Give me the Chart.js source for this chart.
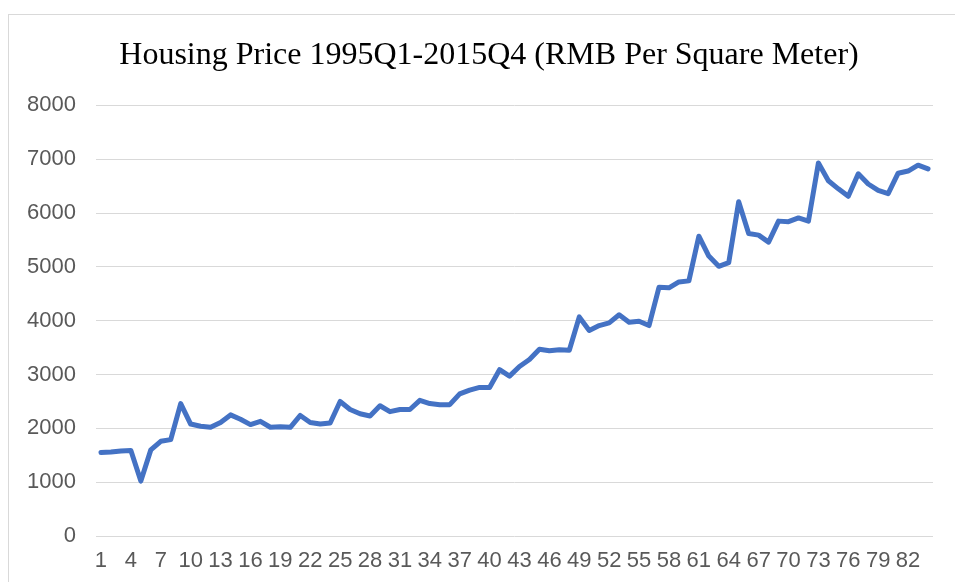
<!DOCTYPE html>
<html>
<head>
<meta charset="utf-8">
<script src="https://cdn.jsdelivr.net/npm/chart.js@4/dist/chart.umd.min.js"></script>
<style>
  html, body { margin: 0; padding: 0; background: #ffffff; overflow: hidden; width: 955px; height: 582px; }
  #frame { position: absolute; left: 8px; top: 14px; width: 1000px; height: 600px;
           border-left: 1px solid #d9d9d9; border-top: 1px solid #d9d9d9; }
  #c { position: absolute; left: 0; top: 0; }
</style>
</head>
<body>
<div id="frame"></div>
<canvas id="c" width="978" height="582"></canvas>
<script>
const chartTitle = "Housing Price 1995Q1-2015Q4 (RMB Per Square Meter)";

const quarters = [
  1, 2, 3, 4, 5, 6, 7, 8, 9, 10, 11, 12, 13, 14, 15, 16, 17, 18, 19, 20, 21,
  22, 23, 24, 25, 26, 27, 28, 29, 30, 31, 32, 33, 34, 35, 36, 37, 38, 39, 40, 41, 42,
  43, 44, 45, 46, 47, 48, 49, 50, 51, 52, 53, 54, 55, 56, 57, 58, 59, 60, 61, 62, 63,
  64, 65, 66, 67, 68, 69, 70, 71, 72, 73, 74, 75, 76, 77, 78, 79, 80, 81, 82, 83, 84
];

const housingPrice = [
  1550, 1560, 1580, 1590, 1020, 1600, 1760, 1790, 2460, 2080, 2040, 2020,
  2110, 2250, 2170, 2070, 2130, 2020, 2030, 2020, 2240, 2110, 2080, 2100,
  2500, 2350, 2270, 2230, 2420, 2310, 2350, 2350, 2520, 2460, 2440, 2440,
  2640, 2710, 2760, 2760, 3090, 2970, 3150, 3280, 3470, 3440, 3460, 3450,
  4070, 3820, 3910, 3960, 4110, 3970, 3990, 3910, 4620, 4610, 4720, 4740,
  5570, 5200, 5010, 5080, 6210, 5620, 5590, 5460, 5850, 5840, 5910, 5850,
  6930, 6600, 6450, 6310, 6730, 6540, 6420, 6360, 6740, 6780, 6890, 6820
];

const yTicks = [0, 1000, 2000, 3000, 4000, 5000, 6000, 7000, 8000];

const tickFont = { family: "'Liberation Sans', Arial, sans-serif", size: 22 };

new Chart(document.getElementById('c'), {
  type: 'line',
  data: {
    labels: quarters,
    datasets: [{
      data: housingPrice,
      borderColor: '#4472C4',
      borderWidth: 5,
      borderJoinStyle: 'round',
      borderCapStyle: 'round',
      pointRadius: 0,
      pointHoverRadius: 0,
      tension: 0,
      fill: false
    }]
  },
  options: {
    responsive: false,
    animation: false,
    devicePixelRatio: 1,
    layout: { padding: 0 },
    plugins: {
      legend: { display: false },
      tooltip: { enabled: false },
      title: {
        display: true,
        text: chartTitle,
        color: '#000000',
        font: { family: "'Liberation Serif', 'Times New Roman', serif", size: 32, weight: 'normal' },
        padding: { top: 36, bottom: 31 }
      }
    },
    scales: {
      x: {
        type: 'category',
        offset: true,
        grid: { display: false, drawTicks: false },
        border: { display: false },
        ticks: {
          autoSkip: false,
          maxRotation: 0,
          minRotation: 0,
          padding: 12,
          color: '#595959',
          font: tickFont,
          callback: function (val, idx) {
            return idx % 3 === 0 ? String(quarters[idx]) : '';
          }
        },
        afterFit: function (scale) {
          scale.height = 46;
          scale.paddingLeft = 0;
          scale.paddingRight = 45;
        }
      },
      y: {
        min: yTicks[0],
        max: yTicks[yTicks.length - 1],
        afterBuildTicks: function (scale) {
          scale.ticks = yTicks.map(function (v) { return { value: v }; });
        },
        grid: { color: '#d9d9d9', lineWidth: 1, drawTicks: false },
        border: { display: false },
        ticks: {
          padding: 20,
          color: '#595959',
          font: tickFont,
          callback: function (value) { return String(value); }
        },
        afterFit: function (scale) { scale.width = 96; }
      }
    }
  }
});
</script>
</body>
</html>
